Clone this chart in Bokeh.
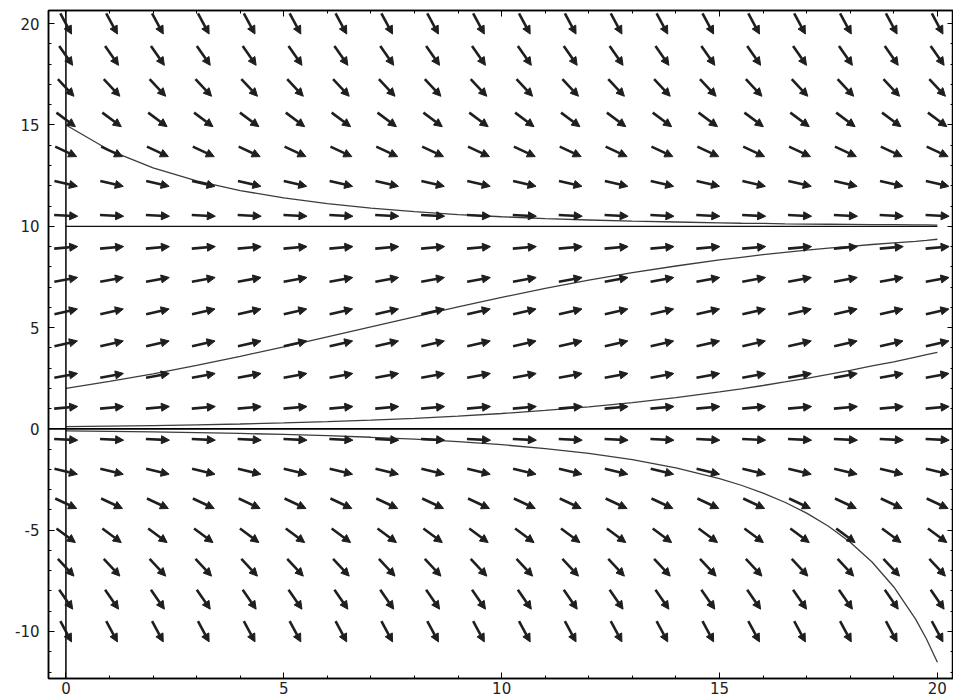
import numpy as np
from bokeh.plotting import figure
from bokeh.models import (Arrow, NormalHead, ColumnDataSource, Span, LinearAxis,
                          SingleIntervalTicker, Range1d, CustomJSTickFormatter)
from bokeh.embed import file_html
from bokeh.resources import INLINE

# ---- slope field grid ----
grid_x = [0, 1.053, 2.105, 3.158, 4.211, 5.263, 6.316, 7.368, 8.421, 9.474,
          10.526, 11.579, 12.632, 13.684, 14.737, 15.789, 16.842, 17.895, 18.947, 20]
grid_y = [-10, -8.421, -6.842, -5.263, -3.684, -2.105, -0.526, 1.053, 2.632, 4.211,
          5.789, 7.368, 8.947, 10.526, 12.105, 13.684, 15.263, 16.842, 18.421, 20]
# slope dy/dx for each row of grid_y (field depends on y only)
row_slopes = [-4.0, -3.1, -2.3, -1.6, -1.0, -0.51, -0.11, 0.19, 0.39, 0.49,
              0.49, 0.39, 0.19, -0.11, -0.51, -1.0, -1.6, -2.3, -3.1, -4.0]

# ---- solution curves ----
curve_x = [0, 1, 2, 3, 4, 5, 6, 7, 8, 9, 10, 11, 12, 13, 14, 15, 15.5, 16, 16.5,
           17, 17.5, 18, 18.5, 19, 19.5, 19.75, 20]
curve_from_15 = [15.0, 13.75, 12.88, 12.24, 11.76, 11.40, 11.12, 10.90, 10.72, 10.58,
                 10.47, 10.38, 10.31, 10.25, 10.21, 10.17, 10.15, 10.14, 10.12,
                 10.11, 10.10, 10.09, 10.08, 10.08, 10.07, 10.07, 10.06]
curve_from_2 = [2.0, 2.34, 2.72, 3.13, 3.58, 4.05, 4.54, 5.03, 5.53, 6.02,
                6.49, 6.93, 7.34, 7.71, 8.04, 8.34, 8.47, 8.60, 8.71,
                8.82, 8.92, 9.01, 9.10, 9.18, 9.25, 9.30, 9.36]
curve_near_0_up = [0.11, 0.134, 0.163, 0.198, 0.241, 0.293, 0.356, 0.431, 0.522, 0.630,
                   0.759, 0.912, 1.091, 1.300, 1.545, 1.825, 1.980, 2.141, 2.315,
                   2.494, 2.688, 2.890, 3.106, 3.311, 3.546, 3.66, 3.774]
curve_near_0_down = [-0.099, -0.121, -0.148, -0.182, -0.223, -0.274, -0.336, -0.414, -0.510, -0.631,
                     -0.781, -0.971, -1.212, -1.521, -1.922, -2.452, -2.782, -3.167, -3.621,
                     -4.160, -4.808, -5.596, -6.571, -7.802, -9.392, -10.37, -11.52]
equilibrium_upper = 10

x_ticks_interval = 5
y_ticks_interval = 5

X_START, X_END = -0.4, 20.37
Y_START, Y_END = -12.32, 20.65
FW, FH = 905, 668

p = figure(frame_width=FW, frame_height=FH,
           x_range=Range1d(X_START, X_END), y_range=Range1d(Y_START, Y_END),
           output_backend="svg", toolbar_location=None,
           min_border_left=48, min_border_right=0, min_border_top=10, min_border_bottom=20,
           background_fill_color="white", border_fill_color="white")
p.grid.visible = False
p.outline_line_color = "black"
p.outline_line_width = 1.5

plain_fmt = CustomJSTickFormatter(code="return String(tick);")
empty_fmt = CustomJSTickFormatter(code="return '';")

def style_axis(ax, labels=True):
    ax.axis_line_color = "black"
    ax.axis_line_width = 1.5
    ax.major_tick_in = 6
    ax.major_tick_out = 0
    ax.minor_tick_in = 3
    ax.minor_tick_out = 0
    ax.major_tick_line_color = "black"
    ax.minor_tick_line_color = "black"
    if labels:
        ax.formatter = plain_fmt
        ax.major_label_text_font = "DejaVu Sans"
        ax.major_label_text_font_size = "15px"
        ax.major_label_text_color = "#222222"
    else:
        ax.formatter = empty_fmt
        ax.major_label_standoff = 0

for ax in p.xaxis:
    ax.ticker = SingleIntervalTicker(interval=x_ticks_interval, num_minor_ticks=5)
    style_axis(ax)
    ax.major_label_standoff = 3
for ax in p.yaxis:
    ax.ticker = SingleIntervalTicker(interval=y_ticks_interval, num_minor_ticks=5)
    style_axis(ax)
    ax.major_label_standoff = 9

top = LinearAxis(ticker=SingleIntervalTicker(interval=x_ticks_interval, num_minor_ticks=5))
style_axis(top, labels=False)
p.add_layout(top, "above")
right = LinearAxis(ticker=SingleIntervalTicker(interval=y_ticks_interval, num_minor_ticks=5))
style_axis(right, labels=False)
p.add_layout(right, "right")

# axes through origin
p.add_layout(Span(location=0, dimension="height", line_color="black", line_width=1.5))
p.add_layout(Span(location=0, dimension="width", line_color="black", line_width=1.6))

# ---- slope field arrows: constant screen length, centred on grid points ----
px_x = FW / (X_END - X_START)
px_y = FH / (Y_END - Y_START)
half_len = 11.8
xs0, ys0, xs1, ys1 = [], [], [], []
for yj, m in zip(grid_y, row_slopes):
    norm = np.hypot(px_x, m * px_y)
    t = half_len / norm
    for xi in grid_x:
        xs0.append(xi - t)
        ys0.append(yj - t * m)
        xs1.append(xi + t)
        ys1.append(yj + t * m)
src = ColumnDataSource(dict(x0=xs0, y0=ys0, x1=xs1, y1=ys1))
p.add_layout(Arrow(x_start="x0", y_start="y0", x_end="x1", y_end="y1", source=src,
                   line_color="#1e1e1e", line_width=2.6,
                   end=NormalHead(size=8, fill_color="#1e1e1e", line_color="#1e1e1e",
                                  line_width=1)))

# ---- solution curves ----
curve_color = "#3c3c3c"
for ys in (curve_from_15, curve_from_2, curve_near_0_up, curve_near_0_down):
    p.line(curve_x, ys, line_color=curve_color, line_width=1.3)
p.line([curve_x[0], curve_x[-1]], [equilibrium_upper, equilibrium_upper],
       line_color="#111111", line_width=1.3)

open("out.html", "w").write(file_html(p, INLINE))
